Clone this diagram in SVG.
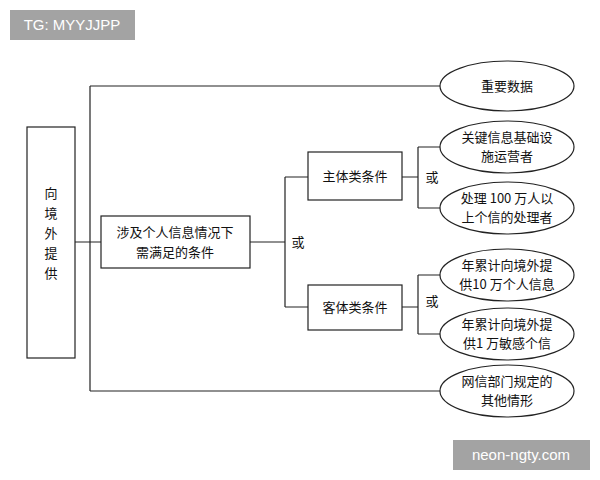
<svg xmlns="http://www.w3.org/2000/svg" width="600" height="480" viewBox="0 0 600 480">
<style>
.b{fill:#fff;stroke:#222;stroke-width:1.2}
.l{fill:none;stroke:#222;stroke-width:1.2}
.t{font-family:"Noto Sans CJK SC","Liberation Serif",serif;font-size:13px;fill:#111;text-anchor:middle}
.w{font-family:"Liberation Sans",sans-serif;font-size:15px;fill:#fff;text-anchor:middle}
</style>
<rect width="600" height="480" fill="#fff"/>
<g id="connectors">
<path class="l" d="M90 86V391M90 86H440M90 391H440M75 242H101M250 242H285M285 177V307M285 177H308M285 307H308M402 177H418M418 147V208M418 147H440M418 208H440M402 307H418M418 275V334M418 275H440M418 334H440"/>
<text class="t" x="298" y="247">或</text>
<text class="t" x="432" y="182">或</text>
<text class="t" x="432" y="306">或</text>
</g>
<g id="wm1"><rect x="10" y="10" width="125" height="30" fill="#a3a3a3"/><text class="w" x="72" y="30">TG: MYYJJPP</text></g>
<g id="wm2"><rect x="453" y="440" width="137" height="30" fill="#a3a3a3"/><text class="w" x="521" y="460">neon-ngty.com</text></g>
<g id="n0"><rect class="b" x="27" y="127" width="48" height="231"/>
<text class="t" x="51" y="198">向</text><text class="t" x="51" y="218">境</text><text class="t" x="51" y="238">外</text><text class="t" x="51" y="258">提</text><text class="t" x="51" y="278">供</text></g>
<g id="n1"><rect class="b" x="101" y="216" width="149" height="52"/>
<text class="t" x="175" y="237">涉及个人信息情况下</text><text class="t" x="175" y="257">需满足的条件</text></g>
<g id="n2"><rect class="b" x="308" y="152" width="94" height="48"/><text class="t" x="355" y="181">主体类条件</text></g>
<g id="n3"><rect class="b" x="308" y="285" width="94" height="45"/><text class="t" x="355" y="312">客体类条件</text></g>
<g id="e1"><ellipse class="b" cx="507" cy="86" rx="67" ry="25"/><text class="t" x="507" y="91">重要数据</text></g>
<g id="e2"><ellipse class="b" cx="507" cy="147" rx="67" ry="26"/><text class="t" x="507" y="142">关键信息基础设</text><text class="t" x="507" y="161">施运营者</text></g>
<g id="e3"><ellipse class="b" cx="507" cy="208" rx="67" ry="26"/><text class="t" x="507" y="203">处理 100 万人以</text><text class="t" x="507" y="222">上个信的处理者</text></g>
<g id="e4"><ellipse class="b" cx="507" cy="275" rx="67" ry="26"/><text class="t" x="507" y="270">年累计向境外提</text><text class="t" x="507" y="289">供10 万个人信息</text></g>
<g id="e5"><ellipse class="b" cx="507" cy="334" rx="67" ry="26"/><text class="t" x="507" y="329">年累计向境外提</text><text class="t" x="507" y="348">供1 万敏感个信</text></g>
<g id="e6"><ellipse class="b" cx="507" cy="391" rx="67" ry="26"/><text class="t" x="507" y="386">网信部门规定的</text><text class="t" x="507" y="405">其他情形</text></g>
</svg>
